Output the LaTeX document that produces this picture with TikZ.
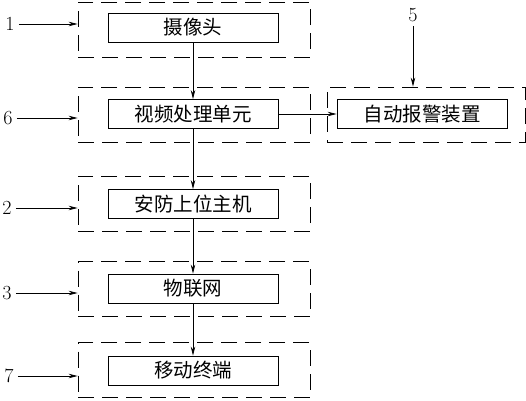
\documentclass[tikz,border=0pt]{standalone}
\usepackage{fontspec}
\newfontfamily\cjk{Noto Sans CJK SC}
\usetikzlibrary{positioning,arrows.meta}
\tikzset{
    frame/.style = {draw, dash pattern=on 16pt off 8pt, line width=0.8pt, minimum width=232pt, minimum height=55pt},
    unit/.style = {draw, line width=0.8pt, minimum width=170pt, minimum height=29pt, inner sep=0pt, font=\cjk\fontsize{19.5}{22}\selectfont},
    tag/.style = {inner sep=4pt, font=\fontsize{20}{22}\selectfont},
    link/.style = {line width=0.8pt, -{Stealth[length=9pt,width=4.5pt]}}
}
\begin{document}
\begin{tikzpicture}[x=1pt, y=-1pt]
    \useasboundingbox (0,0) rectangle (526,400);
    \node[frame] (camF) at (194,29.5) {};
    \node[frame] (vidF) at (194,114.5) {};
    \node[frame] (hostF) at (194,203.5) {};
    \node[frame] (iotF) at (194,289) {};
    \node[frame] (mobF) at (194,370) {};
    \node[frame, minimum width=198pt] (almF) at (426,114.5) {};
    \node[unit] (cam) at (193,27.5) {摄像头};
    \node[unit] (vid) at (193,114) {视频处理单元};
    \node[unit] (host) at (193,204) {安防上位主机};
    \node[unit] (iot) at (193,288.5) {物联网};
    \node[unit] (mob) at (193,370.5) {移动终端};
    \node[unit] (alm) at (422,114) {自动报警装置};
    \node[tag] (n1) at (10,24) {1};
    \node[tag] (n6) at (8,118) {6};
    \node[tag] (n2) at (7,208) {2};
    \node[tag] (n3) at (7,293) {3};
    \node[tag] (n7) at (9,376) {7};
    \node[tag] (n5) at (413,15) {5};
    \draw[link] (n1) -- (camF.west |- n1);
    \draw[link] (n6) -- (vidF.west |- n6);
    \draw[link] (n2) -- (hostF.west |- n2);
    \draw[link] (n3) -- (iotF.west |- n3);
    \draw[link] (n7) -- (mobF.west |- n7);
    \draw[link] (n5) -- (n5 |- almF.north);
    \draw[link] (cam) -- (vid);
    \draw[link] (vid) -- (host);
    \draw[link] (host) -- (iot);
    \draw[link] (iot) -- (mob);
    \draw[link] (vid) -- (alm);
\end{tikzpicture}
\end{document}
